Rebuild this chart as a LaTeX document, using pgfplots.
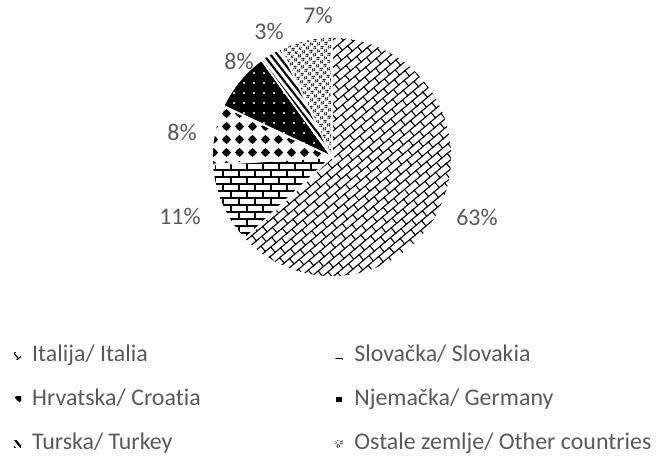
\documentclass[border=0pt]{standalone}
\usepackage{pgfplots}
\pgfplotsset{compat=1.18}
\usepackage{fontspec}
\setmainfont[Ligatures=NoCommon]{Carlito}
\usetikzlibrary{patterns,patterns.meta}
\definecolor{txt}{HTML}{595959}

% shares in percent
\def\vIt{63}\def\vSk{11}\def\vHr{8}\def\vDe{8}\def\vTr{3}\def\vOt{7}
\pgfmathsetmacro\aA{90}
\pgfmathsetmacro\aB{\aA-3.6*\vIt}
\pgfmathsetmacro\aC{\aB-3.6*\vSk}
\pgfmathsetmacro\aD{\aC-3.6*\vHr}
\pgfmathsetmacro\aE{\aD-3.6*\vDe}
\pgfmathsetmacro\aF{\aE-3.6*\vTr}
\pgfmathsetmacro\aG{\aF-3.6*\vOt}

\tikzdeclarepattern{
  name=shingle, type=uncolored,
  bounding box={(-1pt,-1pt) and (15pt,15pt)},
  tile size={(14pt,14pt)},
  tile transformation={rotate=40},
  code={\draw[line width=1.1pt] (-1pt,0pt)--(15pt,0pt) (-1pt,7pt)--(15pt,7pt)
        (0pt,0pt)--(0pt,7pt) (7pt,7pt)--(7pt,14pt);}
}
\tikzdeclarepattern{
  name=brick, type=uncolored,
  bounding box={(-1pt,-1pt) and (17pt,15pt)},
  tile size={(16pt,14pt)},
  code={\draw[line width=1.4pt] (-1pt,0pt)--(17pt,0pt) (-1pt,7pt)--(17pt,7pt)
        (0pt,0pt)--(0pt,7pt) (8pt,7pt)--(8pt,14pt);}
}
\tikzdeclarepattern{
  name=blobs, type=uncolored,
  bounding box={(0pt,0pt) and (13pt,13pt)},
  tile size={(13pt,13pt)},
  code={\fill (6.5pt,6.5pt) circle (3.6pt);
        \fill (1.8pt,6.5pt)--(6.5pt,11.2pt)--(11.2pt,6.5pt)--(6.5pt,1.8pt)--cycle;}
}
\tikzdeclarepattern{
  name=wdots, type=uncolored,
  bounding box={(0pt,0pt) and (10pt,10pt)},
  tile size={(10pt,10pt)},
  code={\fill (5pt,5pt) circle (1.1pt);}
}
\tikzdeclarepattern{
  name=rings, type=uncolored,
  bounding box={(0pt,0pt) and (5pt,5pt)},
  tile size={(5pt,5pt)},
  tile transformation={rotate=45},
  code={\draw[line width=0.7pt] (2.5pt,2.5pt) circle (1.6pt);}
}

\begin{document}
\begin{tikzpicture}
\begin{axis}[
  x=1bp, y=1bp, xmin=0, xmax=660, ymin=0, ymax=456,
  hide axis, clip=false, axis line style={draw=none},
  every axis plot/.append style={draw=white, line width=1.6bp},
  legend columns=2,
  legend image code/.code={\path[#1, draw=none] (0bp,-3.5bp) rectangle (7bp,3.5bp);},
  legend style={at={(axis cs:14,111)}, anchor=north west, draw=none, fill=none,
    inner sep=0pt, row sep=23bp,
    font=\fontsize{24}{28}\selectfont\color{txt},
    nodes={inner sep=0pt, text height=16bp, text depth=5bp, anchor=west},
    /tikz/every odd column/.style={column sep=11bp},
    /tikz/every even column/.style={column sep=134bp}},
  legend cell align=left,
]
\addplot[pattern=shingle, domain=\aB:\aA, samples=120]
  ({332+120*cos(x)},{299+120*sin(x)}) -- (332,299) -- cycle;
\addlegendentry{Italija/ Italia}
\addplot[pattern=brick, domain=\aC:\aB, samples=30]
  ({332+120*cos(x)},{299+120*sin(x)}) -- (332,299) -- cycle;
\addlegendentry{Slovačka/ Slovakia}
\addplot[pattern=blobs, domain=\aD:\aC, samples=25]
  ({332+120*cos(x)},{299+120*sin(x)}) -- (332,299) -- cycle;
\addlegendentry{Hrvatska/ Croatia}
\addplot[preaction={fill=black}, pattern=wdots, pattern color=white, domain=\aE:\aD, samples=25]
  ({332+120*cos(x)},{299+120*sin(x)}) -- (332,299) -- cycle;
\addlegendentry{Njemačka/ Germany}
\addplot[pattern={Lines[angle=-52, distance=5.5pt, line width=2.2pt]}, domain=\aF:\aE, samples=15]
  ({332+120*cos(x)},{299+120*sin(x)}) -- (332,299) -- cycle;
\addlegendentry{Turska/ Turkey}
\addplot[pattern=rings, domain=\aG:\aF, samples=20]
  ({332+120*cos(x)},{299+120*sin(x)}) -- (332,299) -- cycle;
\addlegendentry{Ostale zemlje/ Other countries}

\begin{scope}[every node/.style={font=\fontsize{24}{28}\selectfont, text=txt}]
\node at (axis cs:318,441) {7\%};
\node at (axis cs:269,425) {3\%};
\node at (axis cs:239,395) {8\%};
\node at (axis cs:182,324) {8\%};
\node at (axis cs:180,240) {11\%};
\node at (axis cs:477,239) {63\%};
\end{scope}
\path (axis cs:0,0) rectangle (axis cs:660,456);
\end{axis}
\end{tikzpicture}
\end{document}
